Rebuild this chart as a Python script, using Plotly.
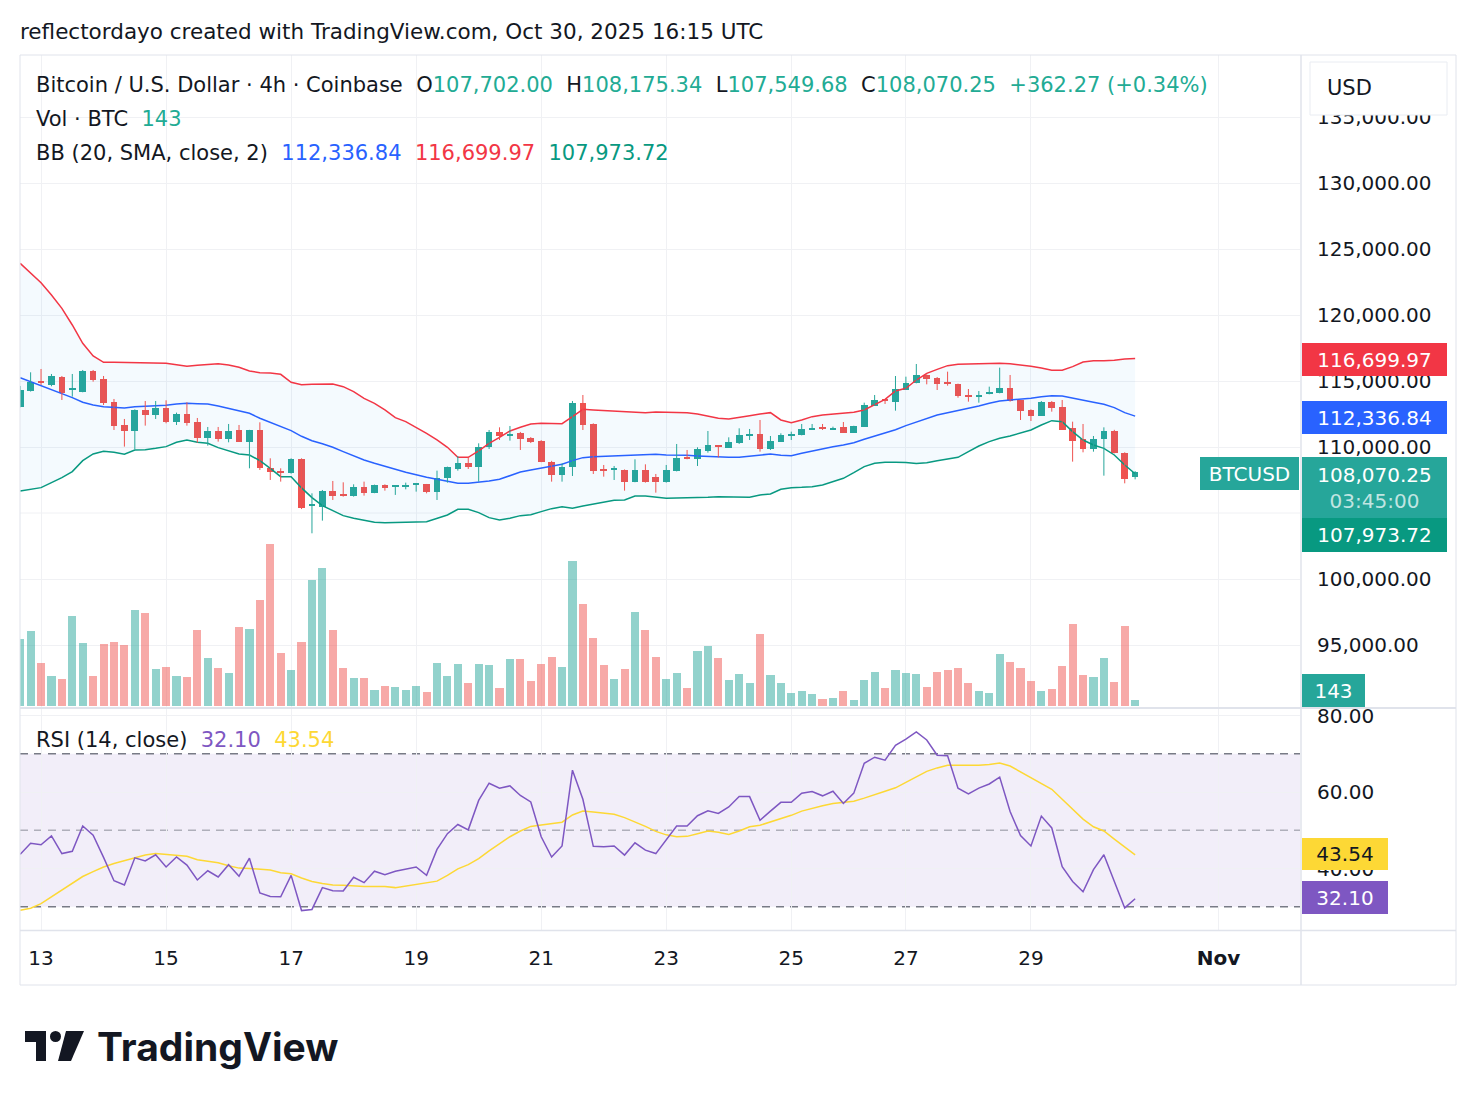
import plotly.graph_objects as go

# ---------------- data ----------------
tick_idx = [2, 14, 26, 38, 50, 62, 74, 85, 97, 115]
tick_text = ["13", "15", "17", "19", "21", "23", "25", "27", "29", "<b>Nov</b>"]
price_ticks = [95000, 100000, 110000, 115000, 120000, 125000, 130000, 135000]
rsi_ticks = [40, 60, 80]

opens = [113057, 114269, 114951, 114699, 115305, 114320, 114194, 115784, 115153, 113411,
         111669, 111239, 112805, 112426, 112957, 111921, 112502, 111870, 110709, 111214,
         110633, 111265, 110406, 111265, 108437, 108210, 108007, 109093, 105560, 105481,
         106668, 106416, 106315, 106996, 106542, 107123, 107000, 107020, 107150, 107173,
         106618, 107628, 108309, 108764, 108512, 110026, 111137, 110834, 111087, 110708,
         110481, 108890, 107880, 108461, 113359, 111744, 108310, 108310, 108259, 107375,
         108259, 107754, 107375, 108208, 109269, 109093, 109723, 110127, 109951, 110279,
         110900, 110986, 109850, 110405, 110880, 110910, 111330, 111440, 111340, 111541,
         111087, 111541, 113107, 113590, 113435, 114319, 114824, 115455, 115253, 114900,
         114773, 113950, 113830, 113990, 114066, 114445, 113561, 112803, 112349, 113435,
         113056, 111415, 110581, 109824, 110581, 111238, 109521, 107702.00]
highs = [114623, 115658, 115911, 115532, 115380, 115532, 115835, 115835, 115380, 113638,
         112123, 112850, 113487, 113487, 113537, 112603, 113386, 112199, 111517, 111517,
         111744, 111669, 111300, 111871, 109144, 108386, 109144, 109144, 106491, 106744,
         107426, 107325, 107173, 107375, 107150, 107173, 107100, 107299, 107270, 107200,
         108208, 108512, 109319, 109218, 110279, 111289, 111491, 111592, 111140, 110750,
         110520, 108950, 108764, 113486, 113940, 111790, 108638, 108562, 108300, 109067,
         108688, 107956, 108638, 110229, 109774, 109976, 111213, 110150, 110733, 111415,
         111365, 112046, 110834, 111036, 111163, 111743, 111743, 111743, 111540, 111895,
         111610, 113359, 113940, 113612, 115379, 115329, 116289, 115500, 115300, 115707,
         114800, 114394, 114243, 114571, 116010, 115455, 113561, 112853, 113480, 113480,
         113561, 111920, 111743, 110834, 111490, 111300, 109597, 108175.34]
lows = [113000, 114200, 114699, 114600, 113562, 113815, 114143, 114951, 113184, 111290,
        110027, 109825, 111618, 112123, 111795, 111669, 111618, 110330, 110103, 110406,
        110355, 110380, 108386, 108260, 107502, 107376, 107980, 105300, 103461, 104421,
        105986, 106239, 106239, 106315, 106500, 106693, 106370, 106794, 106618, 106491,
        105986, 107299, 108208, 108335, 107375, 109850, 110531, 110481, 109774, 110300,
        108850, 107375, 107375, 107804, 111289, 107956, 107754, 107501, 106693, 107330,
        107300, 106542, 107300, 108150, 109068, 108562, 109572, 109218, 109951, 110229,
        110531, 109648, 109774, 110405, 110531, 110880, 111289, 111289, 111289, 111060,
        111060, 111541, 113107, 113259, 112753, 114319, 114824, 114748, 114318, 114647,
        113738, 113435, 113359, 113990, 114066, 113435, 112046, 111970, 112349, 112677,
        111288, 108890, 109597, 109647, 107829, 109521, 107248, 107549.68]
closes = [114320, 114951, 114875, 115380, 114067, 114446, 115784, 115077, 113310, 111593,
          111239, 112805, 112426, 112982, 111896, 112502, 111845, 110709, 111214, 110633,
          111214, 110406, 111265, 108437, 108083, 108058, 109093, 105407, 105660, 106668,
          106315, 106315, 106996, 106491, 107123, 106870, 107080, 107100, 107250, 106618,
          107628, 108461, 108764, 108461, 110026, 111137, 110834, 110950, 110582, 110355,
          108890, 107880, 108511, 113359, 111668, 108208, 108200, 108400, 107375, 108259,
          107375, 107375, 108259, 109193, 109093, 109850, 110153, 110050, 110355, 110935,
          111000, 109824, 110481, 110910, 110960, 111365, 111420, 111390, 111400, 111087,
          111592, 113183, 113561, 113500, 114369, 114874, 115480, 115152, 114748, 114748,
          113889, 113860, 113950, 114192, 114445, 113485, 112753, 112349, 113435, 112930,
          111288, 110480, 109824, 110581, 111238, 109521, 107551, 108070.25]
volumes = [1608, 1800, 1032, 720, 648, 2160, 1512, 720, 1488, 1536,
           1464, 2304, 2232, 888, 936, 720, 696, 1824, 1152, 912,
           792, 1896, 1848, 2544, 3888, 1272, 864, 1536, 3024, 3312,
           1824, 912, 672, 672, 384, 480, 456, 384, 480, 336,
           1032, 720, 1008, 552, 1008, 984, 432, 1128, 1128, 600,
           1008, 1176, 936, 3480, 2448, 1632, 984, 648, 888, 2256,
           1824, 1176, 648, 792, 432, 1320, 1440, 1152, 624, 768,
           552, 1728, 744, 552, 312, 360, 288, 168, 192, 360,
           144, 624, 816, 432, 864, 792, 768, 456, 816, 864,
           912, 552, 360, 312, 1248, 1056, 912, 600, 360, 408,
           960, 1968, 744, 696, 1152, 576, 1920, 143]
bb_upper = [123915, 123157, 122450, 121516, 120506, 119244, 117855, 116896, 116416, 116416,
            116390, 116365, 116365, 116365, 116340, 116239, 116113, 116188, 116239, 116315,
            116214, 116037, 115759, 115633, 115608, 115507, 114901, 114724, 114749, 114774,
            114774, 114571, 114193, 113688, 113309, 112804, 112223, 111920, 111491, 111036,
            110532, 109976, 109219, 109219, 109699, 110279, 110734, 111213, 111491, 111743,
            111794, 111769, 111769, 112299, 112854, 112804, 112753, 112703, 112653, 112602,
            112602, 112653, 112653, 112653, 112602, 112501, 112350, 112173, 112122, 112223,
            112375, 112501, 112602, 112047, 111845, 112047, 112299, 112425, 112501, 112577,
            112627, 112804, 113183, 113612, 114250, 114450, 115076, 115581, 115884, 116162,
            116263, 116288, 116313, 116339, 116339, 116313, 116238, 116111, 115985, 115808,
            115808, 116086, 116440, 116541, 116541, 116566, 116667, 116699.97]
bb_basis = [115254, 114951, 114699, 114371, 114068, 113739, 113386, 113184, 113057, 112982,
            112957, 113057, 113082, 113108, 113158, 113259, 113310, 113285, 113259, 113108,
            112906, 112729, 112552, 112174, 111845, 111543, 111240, 110810, 110470, 110240,
            109976, 109648, 109320, 109017, 108764, 108512, 108309, 108082, 107880, 107704,
            107552, 107375, 107249, 107249, 107325, 107426, 107552, 107804, 108107, 108259,
            108385, 108512, 108688, 108966, 109193, 109269, 109295, 109345, 109345, 109420,
            109446, 109446, 109395, 109395, 109370, 109320, 109269, 109219, 109219, 109219,
            109320, 109420, 109471, 109370, 109345, 109521, 109698, 109900, 110026, 110153,
            110329, 110582, 110835, 111036, 111310, 111620, 111880, 112122, 112425, 112602,
            112753, 112930, 113107, 113309, 113485, 113561, 113612, 113687, 113814, 113889,
            113864, 113687, 113511, 113384, 113233, 112980, 112602, 112336.84]
bb_lower = [106669, 106795, 106922, 107300, 107679, 108134, 108967, 109472, 109674, 109598,
            109447, 109775, 109800, 109901, 110027, 110355, 110533, 110355, 110280, 109952,
            109699, 109472, 109396, 108967, 108386, 107755, 107755, 106900, 106170, 105560,
            105178, 104800, 104598, 104421, 104295, 104270, 104270, 104295, 104320, 104345,
            104598, 104850, 105280, 105280, 105027, 104648, 104472, 104598, 104800, 104875,
            105103, 105330, 105481, 105355, 105532, 105684, 105820, 105960, 105987, 106290,
            106290, 106189, 106113, 106138, 106138, 106189, 106189, 106239, 106239, 106239,
            106189, 106365, 106441, 106794, 106921, 106946, 106996, 107123, 107375, 107627,
            108057, 108512, 108764, 108840, 108850, 108830, 108750, 108814, 108966, 109092,
            109218, 109647, 110077, 110405, 110657, 110834, 111036, 111289, 111667, 111996,
            111920, 111162, 110531, 110152, 109900, 109395, 108637, 107973.72]
rsi = [43.7, 46.6, 46.2, 48.5, 43.9, 44.5, 51.1, 48.7, 42.9, 36.8,
       35.7, 42.8, 42.0, 43.6, 40.4, 43.0, 40.9, 37.0, 39.4, 37.8,
       41.0, 38.0, 42.7, 33.6, 32.7, 32.6, 38.2, 29.0, 29.3, 35.0,
       34.2, 34.1, 37.7, 36.3, 39.3, 38.4, 39.3, 39.8, 40.4, 38.2,
       45.0, 49.1, 51.5, 50.1, 57.8, 62.3, 61.0, 61.6, 59.1, 57.4,
       48.3, 43.0, 45.9, 65.7, 58.1, 45.8, 45.7, 45.9, 43.5, 46.7,
       44.8, 43.9, 47.6, 51.1, 51.1, 53.8, 55.1, 54.4, 56.1, 58.8,
       58.8, 52.6, 55.0, 57.3, 57.3, 59.7, 60.1, 59.0, 60.2, 57.0,
       59.7, 67.5, 69.1, 68.3, 72.2, 73.8, 75.7, 73.6, 69.6, 69.5,
       61.0, 59.5, 61.0, 62.1, 63.9, 54.9, 48.6, 45.9, 53.7, 50.6,
       40.5, 36.6, 33.9, 39.7, 43.6, 36.8, 29.7, 32.10]
rsi_ma = [29.1, 29.6, 30.8, 32.6, 34.3, 36.1, 37.9, 39.2, 40.4, 41.3,
          42.0, 42.9, 43.5, 43.9, 43.7, 43.5, 43.2, 42.3, 41.9, 41.5,
          40.7, 40.1, 40.0, 39.8, 39.6, 38.9, 38.6, 37.5, 36.6, 36.1,
          35.7, 35.6, 35.4, 35.3, 35.3, 35.3, 35.0, 35.4, 35.9, 36.3,
          36.7, 38.2, 39.9, 41.0, 42.6, 44.6, 46.4, 48.3, 49.8, 51.0,
          51.4, 51.7, 52.1, 54.0, 55.0, 54.8, 54.5, 54.2, 53.3, 52.2,
          51.0, 49.7, 48.8, 48.3, 48.4, 49.1, 49.8, 49.5, 48.9, 49.8,
          50.9, 51.3, 52.1, 52.9, 53.9, 55.0, 55.8, 56.4, 57.0, 57.3,
          57.6, 58.4, 59.4, 60.2, 61.1, 62.5, 64.1, 65.4, 66.3, 67.0,
          67.0, 67.0, 67.0, 67.2, 67.6, 66.8, 65.3, 63.6, 62.3, 60.7,
          58.1, 55.5, 52.9, 50.9, 49.8, 47.7, 45.5, 43.54]

idx = list(range(len(closes)))

# ---------------- style ----------------
FONT = "DejaVu Sans"
TXT = "#131722"
UP = "#26A69A"
DN = "#EF5350"
UP_V = "rgba(38,166,154,0.5)"
DN_V = "rgba(239,83,80,0.5)"
GRID = "#F0F1F4"
BORDER = "#E0E3EB"

W, H = 1476, 1106
L, R, T, B = 20, 176, 55, 176
PW, PH = W - L - R, H - T - B


def px(x):
    return (x - L) / PW


def py(y):
    return (H - B - y) / PH


fig = go.Figure()

# Bollinger bands
fig.add_trace(go.Scatter(x=idx, y=bb_upper, mode="lines", line=dict(color="#F23645", width=1.5),
                         xaxis="x", yaxis="y", hoverinfo="skip"))
fig.add_trace(go.Scatter(x=idx, y=bb_lower, mode="lines", line=dict(color="#089981", width=1.5),
                         fill="tonexty", fillcolor="rgba(33,150,243,0.05)",
                         xaxis="x", yaxis="y", hoverinfo="skip"))
fig.add_trace(go.Scatter(x=idx, y=bb_basis, mode="lines", line=dict(color="#2962FF", width=1.5),
                         xaxis="x", yaxis="y", hoverinfo="skip"))

# candle wicks
for up in (True, False):
    wx, wy = [], []
    for i, o, h, l, c in zip(idx, opens, highs, lows, closes):
        if (c >= o) == up:
            wx += [i, i, None]
            wy += [l, h, None]
    fig.add_trace(go.Scatter(x=wx, y=wy, mode="lines", line=dict(color=UP if up else DN, width=1),
                             xaxis="x", yaxis="y", hoverinfo="skip"))

# candle bodies
fig.add_trace(go.Bar(x=idx, base=[min(o, c) for o, c in zip(opens, closes)],
                     y=[max(abs(c - o), 70) for o, c in zip(opens, closes)],
                     width=0.64, marker=dict(color=[UP if c >= o else DN for o, c in zip(opens, closes)],
                                             line=dict(width=0)),
                     xaxis="x", yaxis="y", hoverinfo="skip"))

# volume
fig.add_trace(go.Bar(x=idx, y=volumes, width=0.78,
                     marker=dict(color=[UP_V if c >= o else DN_V for o, c in zip(opens, closes)],
                                 line=dict(width=0)),
                     xaxis="x", yaxis="y3", hoverinfo="skip"))

# RSI
fig.add_trace(go.Scatter(x=idx, y=rsi_ma, mode="lines", line=dict(color="#FDD835", width=1.5),
                         xaxis="x2", yaxis="y2", hoverinfo="skip"))
fig.add_trace(go.Scatter(x=idx, y=rsi, mode="lines", line=dict(color="#7E57C2", width=1.5),
                         xaxis="x2", yaxis="y2", hoverinfo="skip"))

price_lo = 110000 - (708 - 447) * 1000 / 13.2
price_hi = 110000 + (447 - 55) * 1000 / 13.2
rsi_lo = 60 - (930 - 792) / 3.825
rsi_hi = 60 + (792 - 709) / 3.825
xr = [(L - 20.2) / 10.42, (L + PW - 20.2) / 10.42]

axfont = dict(family=FONT, size=20, color=TXT)

fig.update_layout(
    width=W, height=H, margin=dict(l=L, r=R, t=T, b=B),
    paper_bgcolor="white", plot_bgcolor="white",
    showlegend=False, barmode="overlay", bargap=0,
    font=dict(family=FONT, color=TXT),
    xaxis=dict(domain=[0, 1], range=xr, anchor="y", tickvals=tick_idx, ticktext=tick_text,
               showticklabels=False, showgrid=True, gridcolor=GRID, gridwidth=1,
               zeroline=False, showline=False, rangeslider=dict(visible=False), fixedrange=True),
    xaxis2=dict(domain=[0, 1], range=xr, anchor="y2", tickvals=tick_idx, ticktext=tick_text,
                showticklabels=True, tickfont=axfont, ticks="", ticklabelstandoff=14,
                showgrid=True, gridcolor=GRID, gridwidth=1, zeroline=False, showline=False),
    yaxis=dict(domain=[py(708), 1], range=[price_lo, price_hi], side="right", anchor="x",
               tickvals=price_ticks, tickformat=",.2f", tickfont=axfont,
               ticks="", ticklabelstandoff=16, showgrid=True, gridcolor=GRID, zeroline=False,
               showline=False),
    yaxis3=dict(domain=[py(708), 1], range=[-48, 653 * 24 - 48], overlaying="y", side="right",
                visible=False, showgrid=False, zeroline=False),
    yaxis2=dict(domain=[0, py(709)], range=[rsi_lo, rsi_hi], side="right", anchor="x2",
                tickvals=rsi_ticks, tickformat=".2f", tickfont=axfont, ticks="",
                ticklabelstandoff=16, showgrid=True, gridcolor=GRID, zeroline=False, showline=False),
)

shapes = []
# hidden 105,000 grid line (its label sits under the price tags)
shapes.append(dict(type="line", xref="paper", yref="y", x0=0, x1=1, y0=105000, y1=105000,
                   line=dict(color=GRID, width=1), layer="below"))
# RSI background band and levels
shapes.append(dict(type="rect", xref="paper", yref="y2", x0=0, x1=1, y0=30, y1=70,
                   fillcolor="rgba(126,87,194,0.1)", line=dict(width=0), layer="below"))
for lvl, col in ((70, "#787B86"), (30, "#787B86"), (50, "rgba(120,123,134,0.55)")):
    shapes.append(dict(type="line", xref="paper", yref="y2", x0=0, x1=1, y0=lvl, y1=lvl,
                       line=dict(color=col, width=1.5, dash="8px,6px"), layer="below"))
# frame and separators
shapes.append(dict(type="rect", xref="paper", yref="paper", x0=px(20), x1=px(1456), y0=py(985), y1=py(55),
                   line=dict(color=BORDER, width=1), fillcolor="rgba(0,0,0,0)", layer="above"))
shapes.append(dict(type="line", xref="paper", yref="paper", x0=px(1301), x1=px(1301), y0=py(985), y1=py(55),
                   line=dict(color=BORDER, width=1.5), layer="above"))
shapes.append(dict(type="line", xref="paper", yref="paper", x0=px(20), x1=px(1456), y0=py(708), y1=py(708),
                   line=dict(color=BORDER, width=2), layer="above"))
shapes.append(dict(type="line", xref="paper", yref="paper", x0=px(20), x1=px(1456), y0=py(930.5), y1=py(930.5),
                   line=dict(color=BORDER, width=1.5), layer="above"))
# USD box
shapes.append(dict(type="rect", xref="paper", yref="paper", x0=px(1310), x1=px(1447), y0=py(115), y1=py(62),
                   line=dict(color="#E9ECF2", width=1), fillcolor="white", layer="above"))


# TradingView logo
def path(pts):
    return "M " + " L ".join(f"{px(a):.5f},{py(b):.5f}" for a, b in pts) + " Z"


shapes.append(dict(type="path", xref="paper", yref="paper",
                   path=path([(25, 1031), (46, 1031), (46, 1061), (36, 1061), (36, 1042), (25, 1042)]),
                   fillcolor="#131722", line=dict(width=0), layer="above"))
shapes.append(dict(type="circle", xref="paper", yref="paper", x0=px(50), x1=px(61), y0=py(1042), y1=py(1031),
                   fillcolor="#131722", line=dict(width=0), layer="above"))
shapes.append(dict(type="path", xref="paper", yref="paper",
                   path=path([(66, 1031), (84, 1031), (71, 1061), (58, 1061)]),
                   fillcolor="#131722", line=dict(width=0), layer="above"))
fig.update_layout(shapes=shapes)

ann = []


def text(x, y, s, size=21, color=TXT, anchor="left", family=FONT, weight=None):
    f = dict(family=family, size=size, color=color)
    if weight:
        f["weight"] = weight
    ann.append(dict(xref="paper", yref="paper", x=px(x), y=py(y), xanchor=anchor, yanchor="middle",
                    text=s, showarrow=False, font=f))


def label(x0, x1, y0, y1, s, bg, color="white"):
    ann.append(dict(xref="paper", yref="paper", x=px((x0 + x1) / 2), y=py((y0 + y1) / 2),
                    xanchor="center", yanchor="middle", width=x1 - x0, height=y1 - y0,
                    align="center", valign="middle", bgcolor=bg, borderpad=0, borderwidth=0,
                    text=s, showarrow=False, font=dict(family=FONT, size=20, color=color)))


def c(s, col):
    return f"<span style='color:{col}'>{s}</span>"


G = "#22AB94"
sp = "\u00a0\u00a0"
text(18, 31, "reflectordayo created with TradingView.com, Oct 30, 2025 16:15 UTC", size=21.5)
text(34, 85, "Bitcoin / U.S. Dollar · 4h · Coinbase" + sp + "O" + c("107,702.00", G) + sp + "H" + c("108,175.34", G)
     + sp + "L" + c("107,549.68", G) + sp + "C" + c("108,070.25", G) + sp + c("+362.27 (+0.34%)", G))
text(34, 119, "Vol · BTC" + sp + c("143", G))
text(34, 153, "BB (20, SMA, close, 2)" + sp + c("112,336.84", "#2962FF") + sp + c("116,699.97", "#F23645")
     + sp + c("107,973.72", "#089981"))
text(34, 740, "RSI (14, close)" + sp + c("32.10", "#7E57C2") + sp + c("43.54", "#FDD835"))
text(1325, 88, "USD", size=21)

label(1302, 1447, 343, 376, "116,699.97", "#F23645")
label(1302, 1447, 401, 434, "112,336.84", "#2962FF")
label(1302, 1447, 457, 518, "108,070.25<br>" + c("03:45:00", "rgba(255,255,255,0.72)"), "#26A69A")
label(1302, 1447, 518, 552, "107,973.72", "#089981")
label(1200, 1299, 457, 490, "BTCUSD", "#26A69A")
label(1302, 1365, 674, 707, "143", "#26A69A")
label(1302, 1388, 838, 870, "43.54", "#FDD835", TXT)
label(1302, 1388, 881, 914, "32.10", "#7E57C2")

text(95, 1046, "TradingView", size=39, family="Inter", weight=700)

fig.update_layout(annotations=ann)
fig.write_html("out.html")
